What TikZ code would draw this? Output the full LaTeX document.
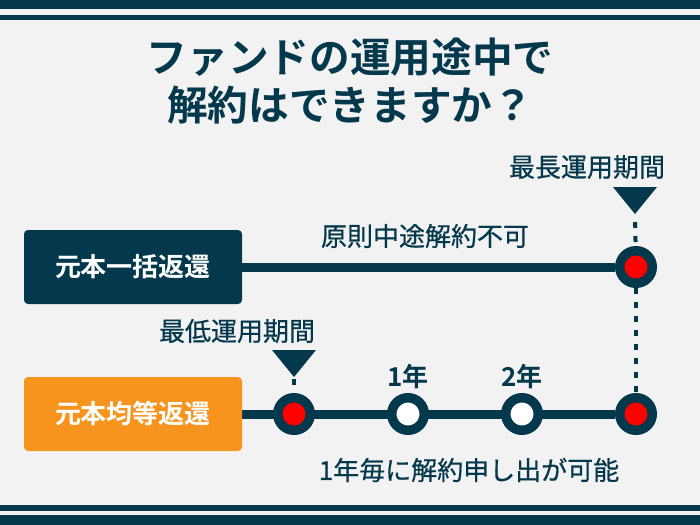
\documentclass[tikz,border=0pt]{standalone}
\usepackage{fontspec}
\setmainfont{Noto Sans CJK JP}[BoldFont={Noto Sans CJK JP Bold}]
\newfontfamily\labelfont{Noto Sans CJK JP}[FakeBold=0.6]
\usepackage{xcolor}
\usetikzlibrary{backgrounds,positioning}
\definecolor{navy}{HTML}{04384C}
\definecolor{fundorange}{HTML}{F7941E}
\definecolor{canvas}{HTML}{F2F2F2}
\definecolor{dotred}{HTML}{FF0000}
\tikzset{
  titletext/.style={text=navy,font=\fontsize{30.5}{35.5}\selectfont\bfseries,align=center},
  planbox/.style={rounded corners=3pt,minimum width=163.5pt,minimum height=55.5pt,
                  text=white,font=\fontsize{19.5}{22}\selectfont\bfseries},
  plainlbl/.style={text=navy,font=\fontsize{19.5}{22}\selectfont\labelfont,inner sep=0pt},
  yearlbl/.style={text=navy,font=\fontsize{19.5}{22}\selectfont\bfseries,inner sep=0pt},
  stop/.style={circle,draw=navy,line width=7.1pt,minimum size=24.4pt,inner sep=0pt},
  track/.style={draw=navy,line width=6.75pt},
  dotline/.style={draw=navy,line width=3pt,dash pattern=on 4.5pt off 6pt}
}

\begin{document}
\begin{tikzpicture}[x=0.75pt,y=-0.75pt]
  \useasboundingbox (0,0) rectangle (700,525);

  % frame bars
  \fill[navy] (0,0) rectangle (700,9);
  \fill[navy] (0,14.5) rectangle (700,19.5);
  \fill[navy] (0,505) rectangle (700,510.5);
  \fill[navy] (0,515) rectangle (700,525);

  \node[titletext] (title) at (350,81) {ファンドの運用途中で\\解約はできますか？};

  % the two plans
  \node[planbox,fill=navy] (lump) at (133,267) {元本一括返還};
  \node[planbox,fill=fundorange] (equal) at (133,414) {元本均等返還};

  \node[stop,fill=dotred] (maxend) at (636,267) {};
  \node[stop,fill=dotred] (minend) at (294,414) {};
  \node[stop,fill=white] (yr1) at (408,414) {};
  \node[stop,fill=white] (yr2) at (522,414) {};
  \node[stop,fill=dotred] (last) at (636,414) {};

  % markers
  \coordinate (maxtip) at (635,214);
  \coordinate (mintip) at (294,377);
  \fill[navy] (maxtip) ++(-22,-27) -- ++(44,0) -- (maxtip) -- cycle;
  \fill[navy] (mintip) ++(-22,-27) -- ++(44,0) -- (mintip) -- cycle;

  \begin{scope}[on background layer]
    \fill[canvas] (0,0) rectangle (700,525);
    \draw[track] (lump) -- (maxend);
    \draw[track] (equal) -- (last);
    \draw[dotline,dash phase=4.5pt] (maxtip) -- (maxend);
    \draw[dotline] (maxend) -- (last);
    \draw[dotline,dash phase=-1.5pt] (mintip) -- (minend);
  \end{scope}

  % labels
  \node[plainlbl] (maxlbl) at (587,167) {最長運用期間};
  \node[plainlbl] (nocancel) at (425,236) {原則中途解約不可};
  \node[plainlbl] (minlbl) at (237,331) {最低運用期間};
  \node[yearlbl] (yr1lbl) at (408,377) {1年};
  \node[yearlbl] (yr2lbl) at (522,377) {2年};
  \node[plainlbl] (yearly) at (469,470) {1年毎に解約申し出が可能};
\end{tikzpicture}
\end{document}
